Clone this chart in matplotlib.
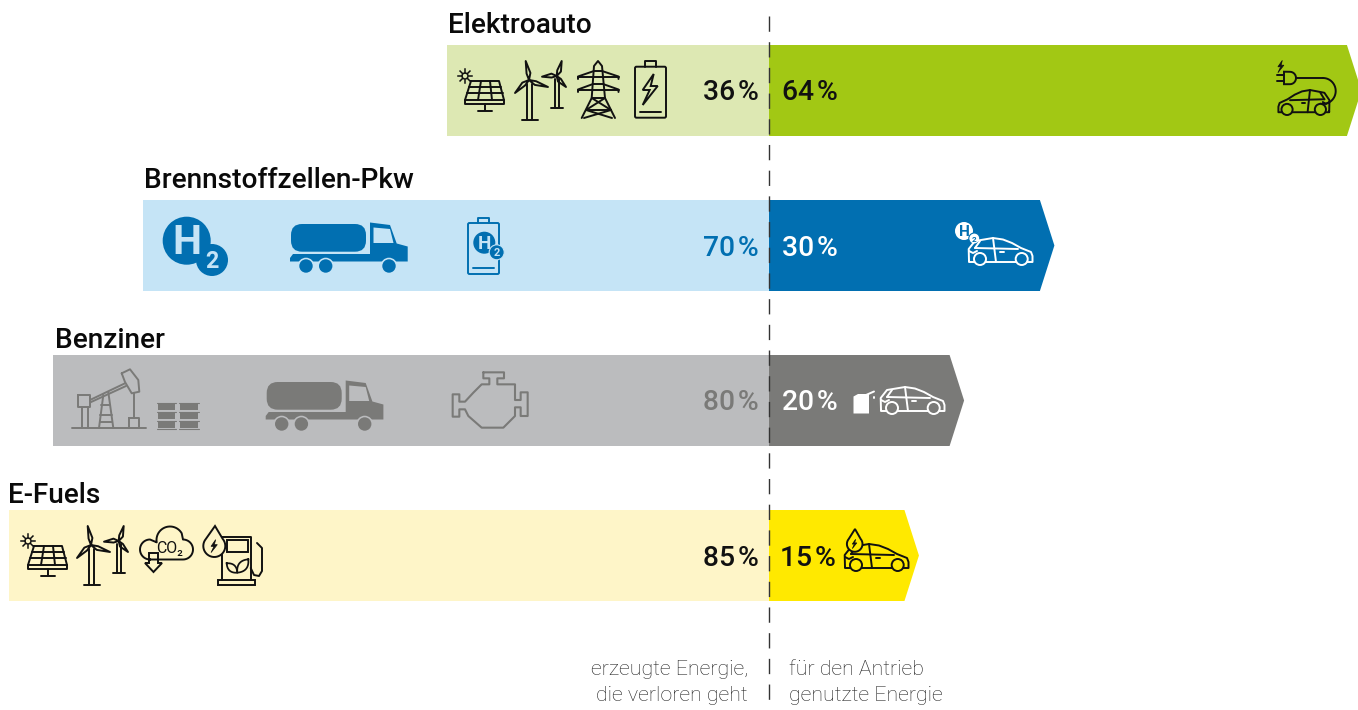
#!/usr/bin/env python3
"""Wirkungsgrade der Antriebsarten: verlorene vs. genutzte Energie."""
import numpy as np
import matplotlib

matplotlib.use("Agg")
import matplotlib.pyplot as plt
from matplotlib.patches import Circle, FancyBboxPatch, Polygon, Rectangle

plt.rcParams["font.family"] = ["Roboto", "DejaVu Sans"]

# data
names = ["Elektroauto", "Brennstoffzellen-Pkw", "Benziner", "E-Fuels"]
lost = [36, 70, 80, 85]
used = [64, 30, 20, 15]
lost_colors = ["#dde8b3", "#c5e4f6", "#bbbcbe", "#fef5c8"]
used_colors = ["#a2c814", "#016fb1", "#7a7a78", "#ffe900"]
lost_text_colors = ["#111111", "#016fb1", "#7a7a78", "#111111"]
used_text_colors = ["#111111", "#ffffff", "#ffffff", "#111111"]
lost_caption = ["erzeugte Energie,", "die verloren geht"]
used_caption = ["für den Antrieb", "genutzte Energie"]

W, H = 1358, 710
ZERO_X = 769
LW = 1.4
fig = plt.figure(figsize=(W / 100, H / 100), dpi=100)

# two half axes in percent, the picture scales both sides a bit differently
ylim = ((H - 90.5) / 155, -90.5 / 155)
ax_l = fig.add_axes([0, 0, ZERO_X / W, 1])
ax_l.set_xlim(ZERO_X / 8.945, 0)
ax_r = fig.add_axes([ZERO_X / W, 0, 1 - ZERO_X / W, 1])
ax_r.set_xlim(0, (W - ZERO_X) / 9.03)
for a in (ax_l, ax_r):
    a.set_ylim(*ylim)
    a.axis("off")

y = np.arange(len(names))
bar_h = 91 / 155
tip = 14.5 / 9.03
ax_l.barh(y, lost, height=bar_h, color=lost_colors, linewidth=0)
for i, v in enumerate(used):
    ax_r.fill([0, v, v + tip, v, 0],
              [i - bar_h / 2, i - bar_h / 2, i, i + bar_h / 2, i + bar_h / 2],
              color=used_colors[i], linewidth=0)

# overlay in pixels for the labels and the pictograms
ax = fig.add_axes([0, 0, 1, 1], zorder=5)
ax.set_xlim(0, W)
ax.set_ylim(H, 0)
ax.axis("off")
ax.patch.set_alpha(0)

ax.plot([ZERO_X, ZERO_X], [16, 700], color="#333333", lw=1.0, dashes=(11, 7.5))

title_y = [33, 188, 348, 503]
title_x = [448, 144, 55, 8]
for i, name in enumerate(names):
    ax.text(title_x[i], title_y[i], name, fontsize=20.2, weight="medium", color="#0a0a0a", va="baseline")
    cy = 90.5 + 155 * i + 10
    ax.text(759, cy, f"{lost[i]}\u200a%", ha="right", va="baseline", fontsize=20.3,
            weight="medium", color=lost_text_colors[i])
    ax.text(782 if i < 3 else 780, cy, f"{used[i]}\u200a%", ha="left", va="baseline", fontsize=20.3,
            weight="medium", color=used_text_colors[i])

for k in range(2):
    ax.text(748, 675 + 26 * k, lost_caption[k], ha="right", va="baseline", fontsize=15.4,
            weight="light", color="#222222")
    ax.text(789, 675 + 26 * k, used_caption[k], ha="left", va="baseline", fontsize=15.4,
            weight="light", color="#222222")


# pictogram helpers, all coordinates in picture pixels
def ln(pts, c, ox=0, oy=0, lw=LW, close=False):
    p = np.array(pts, dtype=float)
    if close:
        p = np.vstack([p, p[0]])
    ax.plot(p[:, 0] + ox, p[:, 1] + oy, color=c, lw=lw, solid_capstyle="round", solid_joinstyle="round")


def blade(hub, tip_pt, c, ox, oy):
    hx, hy = hub
    tx, ty = tip_pt
    d = np.array([tx - hx, ty - hy], dtype=float)
    n = np.array([-d[1], d[0]]) / np.hypot(*d)
    m = np.array([hx, hy]) + d * 0.35
    pts = [hub, m + n * 2.6, tip_pt, m - n * 1.3]
    ln(pts, c, ox, oy, close=True)


def solar(c, ox=0, oy=0):
    sx, sy = 465 + ox, 76 + oy
    for a in np.arange(0, 360, 45):
        r = np.radians(a)
        ax.plot([sx + 3.5 * np.cos(r), sx + 7 * np.cos(r)], [sy + 3.5 * np.sin(r), sy + 7 * np.sin(r)],
                color=c, lw=1.1)
    ax.add_patch(Circle((sx, sy), 3, fc="none", ec=c, lw=1.1))
    ln([(471, 81), (499, 81), (504, 100), (504, 104), (465, 104), (465, 100)], c, ox, oy, close=True)
    ln([(465, 100), (504, 100)], c, ox, oy)
    ln([(469, 87), (501, 87)], c, ox, oy)
    ln([(467, 93), (503, 93)], c, ox, oy)
    ln([(481, 81), (478, 100)], c, ox, oy)
    ln([(490, 81), (492, 100)], c, ox, oy)
    ln([(484.5, 104), (484.5, 110)], c, ox, oy)
    ln([(478, 110.5), (492, 110.5)], c, ox, oy)


def turbines(c, ox=0, oy=0):
    hub = (529, 80)
    for t in [(525.7, 61), (548, 87), (515, 93)]:
        blade(hub, t, c, ox, oy)
    ln([(527.3, 84), (527.3, 119)], c, ox, oy)
    ln([(531.8, 84), (531.8, 119)], c, ox, oy)
    ln([(522, 119.5), (538, 119.5)], c, ox, oy)
    hub = (556.7, 76)
    for t in [(561.7, 61), (542, 76.7), (566, 87)]:
        blade(hub, t, c, ox, oy)
    ln([(555, 79), (555, 107)], c, ox, oy)
    ln([(558.5, 79), (558.5, 107)], c, ox, oy)
    ln([(551, 107.5), (562.7, 107.5)], c, ox, oy)


def pylon(c):
    ln([(581.7, 118), (591.7, 98), (594, 66), (598, 61), (602, 66), (605, 98), (615, 118)], c)
    ln([(578, 79), (578, 76.5), (594, 71), (602, 71), (618.5, 76.5), (618.5, 79)], c)
    ln([(578, 76.5), (618.5, 76.5)], c)
    ln([(578, 92), (578, 89.5), (593, 84), (603, 84), (618.5, 89.5), (618.5, 92)], c)
    ln([(578, 89.5), (618.5, 89.5)], c)
    ln([(591.7, 98), (605, 98)], c)
    ln([(591.7, 98), (611, 110), (584, 118)], c)
    ln([(605, 98), (586, 110), (612, 118)], c)
    ln([(586, 110), (611, 110)], c)


def battery(c, x0, y0, x1, y1, cap_h=5.5):
    b = FancyBboxPatch((x0, y0), x1 - x0, y1 - y0, boxstyle="round,pad=0,rounding_size=1.5", fc="none", ec=c, lw=LW)
    ax.add_patch(b)
    cx = (x0 + x1) / 2
    ln([(cx - 5.2, y0), (cx - 5.2, y0 - cap_h), (cx + 5.2, y0 - cap_h), (cx + 5.2, y0)], c)
    ln([(x0 + 5, y1 - 6), (x1 - 5, y1 - 6)], c)


def bolt(c, x, y, s=1.0, fill=False):
    pts = np.array([(2, -14), (-9, 2), (-2, 2), (-9, 17), (6, -2), (-1, -2)], dtype=float) * s + [x, y]
    return ax.add_patch(Polygon(pts, closed=True, fc=c if fill else "none", ec=c, lw=LW if not fill else 0.5))


def truck(c, bg, ox=0, oy=0):
    ax.add_patch(FancyBboxPatch((291 + ox, 224 + oy), 75, 27.7, boxstyle="round,pad=0,rounding_size=11", fc=c, ec="none"))
    body = [(290, 258), (293, 254), (370, 254), (370, 222.5), (390, 225), (396.7, 243.5), (407.7, 246.5), (407.7, 261.5), (290, 261.5)]
    ax.add_patch(Polygon(np.array(body) + [ox, oy], closed=True, fc=c, ec="none"))
    ax.add_patch(Polygon(np.array([(373.5, 227.5), (390, 229), (393.5, 243), (373.5, 243)]) + [ox, oy], closed=True, fc=bg, ec="none"))
    for wx in (306, 325.7, 389):
        ax.add_patch(Circle((wx + ox, 266 + oy), 8.3, fc=bg, ec="none"))
        ax.add_patch(Circle((wx + ox, 266 + oy), 6.7, fc=c, ec="none"))


def h2(cx, cy, r, sx, sy, sr, c, tc, ring=None):
    ax.add_patch(Circle((cx, cy), r, fc=c, ec="none"))
    ax.add_patch(Circle((sx, sy), sr, fc=c, ec=ring or "none", lw=0.8))
    ax.text(cx, cy + 0.1 * r, "H", ha="center", va="center", color=tc, fontsize=r * 1.23, weight="bold")
    ax.text(sx, sy + 0.1 * sr, "2", ha="center", va="center", color=tc, fontsize=sr * 1.05, weight="bold")


def drop(c, bg, tipx, tipy, cx, cy, r):
    th = np.radians(np.linspace(-40, 220, 30))
    pts = np.column_stack([np.r_[tipx, cx + r * np.cos(th)], np.r_[tipy, cy + r * np.sin(th)]])
    ax.add_patch(Polygon(pts, closed=True, fc=bg, ec=c, lw=LW, zorder=4))


def leaf(c, a, b, bulge):
    a, b = np.array(a, dtype=float), np.array(b, dtype=float)
    d = b - a
    n = np.array([-d[1], d[0]]) * bulge
    t = np.linspace(0, 1, 15)[:, None]
    up = a + d * t + n * 4 * t * (1 - t)
    dn = a + d * t - n * 4 * t * (1 - t)
    ax.plot(*np.vstack([up, dn[::-1]]).T, color=c, lw=LW * 0.9)


def car(x, y, c, bg, width=65.0, height=27.0, flip=False):
    # hatchback, hood to the right; local box 65 x 27
    sx, sy = width / 65, height / 27
    def pt(pts):
        p = np.array(pts, dtype=float)
        if flip:
            p[:, 0] = 65 - p[:, 0]
        return p * [sx, sy] + [x, y]
    def seg(pts):
        p = pt(pts)
        ax.plot(p[:, 0], p[:, 1], color=c, lw=LW, solid_joinstyle="round", solid_capstyle="round")
    seg([(1, 23), (0.7, 11), (7, 3), (25, 0), (35, 1.5), (44, 5), (53, 10), (63, 14), (64.5, 18), (64.5, 24), (1, 24), (1, 23)])
    seg([(7, 10), (50, 11)])
    seg([(7, 10), (12, 3)])
    seg([(25, 0), (28, 24)])
    seg([(31.5, 13.5), (35.5, 13.5)])
    seg([(1, 13), (5, 15), (9, 13)])
    for wx in (12, 53.7):
        cen = pt([(wx, 21)])[0]
        ax.add_patch(Circle(cen, 6.2 * max(sx, sy) * 0.97, fc=bg, ec=c, lw=LW, zorder=3))


# Elektroauto
solar("#111111")
turbines("#111111")
pylon("#111111")
battery("#111111", 635, 66.7, 666, 117.7)
bolt("#111111", 651.7, 88)
car(1278, 90, "#111111", used_colors[0], width=52, height=25, flip=True)
ln([(1296, 78), (1323, 78)], "#111111")
t = np.radians(np.linspace(-90, 100, 30))
ax.plot(1323 + 12.7 * np.cos(t), 91 + 13 * np.sin(t), color="#111111", lw=LW)
t = np.radians(np.linspace(-90, 90, 15))
ax.add_patch(Polygon(np.column_stack([np.r_[1284, 1290 + 6 * np.cos(t), 1284], np.r_[71.7, 78 + 6.2 * np.sin(t), 84.2]]),
                     closed=True, fc="none", ec="#111111", lw=LW))
ln([(1277, 75), (1284, 75)], "#111111")
ln([(1277, 81), (1284, 81)], "#111111")
bolt("#111111", 1281.5, 66, s=0.4, fill=True)

# Brennstoffzelle
blue = used_colors[1]
pale = lost_colors[1]
h2(186.7, 240.7, 24, 212, 260, 16, blue, pale)
truck(blue, pale)
battery(blue, 468, 223, 499, 274)
h2(484.3, 242.7, 11, 496.7, 252.3, 7.5, blue, pale, ring=pale)
car(968, 238, "#ffffff", blue)
h2(964, 231, 9, 974.3, 238.5, 5.5, "#ffffff", blue, ring=blue)

# Benziner
grey = used_colors[2]
pale = lost_colors[2]
ln([(72.3, 428.3), (146, 428.3)], grey)
ln([(78.3, 395), (90, 395), (90, 406.7), (78.3, 406.7)], grey, close=True)
ln([(81.7, 406.7), (81.7, 428)], grey)
ln([(88.3, 406.7), (88.3, 428)], grey)
ln([(90, 400), (125, 383.3)], grey)
ln([(90, 402.5), (126, 386)], grey)
ln([(99, 428), (103.3, 395)], grey)
ln([(113.3, 428), (108.3, 392)], grey)
ln([(101, 405), (110, 405)], grey)
ln([(100, 415), (112, 415)], grey)
ln([(100, 422), (112, 422)], grey)
ln([(121.7, 373.3), (130, 369.3), (138.3, 380), (139.3, 391.7), (131.7, 393.3), (125, 382)], grey, close=True)
ln([(134.3, 393), (134.3, 418)], grey)
ln([(129.3, 418), (139.3, 418), (139.3, 428), (129.3, 428)], grey, close=True)
for bx in (156.7, 179.3):
    for by in (403.6, 412.7, 421.7):
        ax.add_patch(Rectangle((bx + 1, by), 17.5, 6.4, fc=grey, ec="none"))
    for ry in (402.5, 411.5, 420.5, 428.5):
        ln([(bx, ry), (bx + 19.5, ry)], grey, lw=0.8)
truck(grey, pale, ox=-24.3, oy=158)
engine = np.array([(1300, 67), (1362, 67), (1362, 85), (1342, 85), (1342, 103), (1395, 103), (1395, 150), (1412, 150),
                   (1412, 127), (1433, 127), (1433, 198), (1412, 198), (1412, 172), (1395, 172), (1395, 198), (1360, 233),
                   (1295, 233), (1255, 198), (1245, 178), (1228, 178), (1228, 200), (1208, 200), (1208, 133), (1228, 133),
                   (1228, 155), (1245, 155), (1270, 128), (1295, 103), (1318, 103), (1318, 85), (1300, 85)], dtype=float)
ln(engine / 3 + [50, 350], grey, lw=1.5, close=True)
ax.add_patch(Polygon([(853.5, 396.5), (858, 394), (869, 394), (869, 413.5), (853.5, 413.5)], closed=True, fc="#ffffff", ec="none"))
ln([(866, 395), (874, 391.5)], "#ffffff")
ln([(874, 397), (874, 398)], "#ffffff")
car(880, 387, "#ffffff", grey)

# E-Fuels
dark = "#111111"
solar(dark, -437, 465)
turbines(dark, -438, 465)
# cloud with CO2 and arrow
parts = [(150, 549.5, 10, 90, 270), (170, 540, 13.5, 170, 330), (183, 549.5, 10, 270, 450)]
xs, ys = [], []
for cx, cy, r, a0, a1 in parts:
    th = np.radians(np.linspace(a0, a1, 24))
    xs += list(cx + r * np.cos(th))
    ys += list(cy + r * np.sin(th))
ax.plot(xs + [xs[0]], ys + [ys[0]], color=dark, lw=LW)
ax.text(170, 549, "CO\u2082", ha="center", va="center", fontsize=11.5, color=dark)
ax.add_patch(Polygon([(149, 553), (158, 553), (158, 563), (162, 563), (153.5, 572), (145, 563), (149, 563)],
                     closed=True, fc=lost_colors[3], ec=dark, lw=LW))
# fuel pump
ln([(221.7, 580), (221.7, 537), (250.7, 537), (250.7, 580)], dark)
ax.add_patch(Rectangle((218, 580), 37, 5, fc="none", ec=dark, lw=LW))
ax.add_patch(Rectangle((226.7, 540), 21.3, 11.7, fc="none", ec=dark, lw=LW))
drop(dark, lost_colors[3], 215, 526, 214.3, 546, 11)
bolt(dark, 214.8, 545.5, s=0.42, fill=True).set_zorder(5)
leaf(dark, (226.7, 563.3), (237.3, 572.7), 0.25)
leaf(dark, (248.3, 559.3), (237.3, 572.7), 0.25)
ln([(250.7, 568), (254, 575), (259, 576), (262, 571), (262, 548), (257, 543)], dark)
car(844, 544, dark, used_colors[3])
drop(dark, used_colors[3], 855, 529, 854.7, 544, 7.8)
bolt(dark, 855, 543.5, s=0.3, fill=True).set_zorder(5)

fig.savefig("out.png", dpi=100)
